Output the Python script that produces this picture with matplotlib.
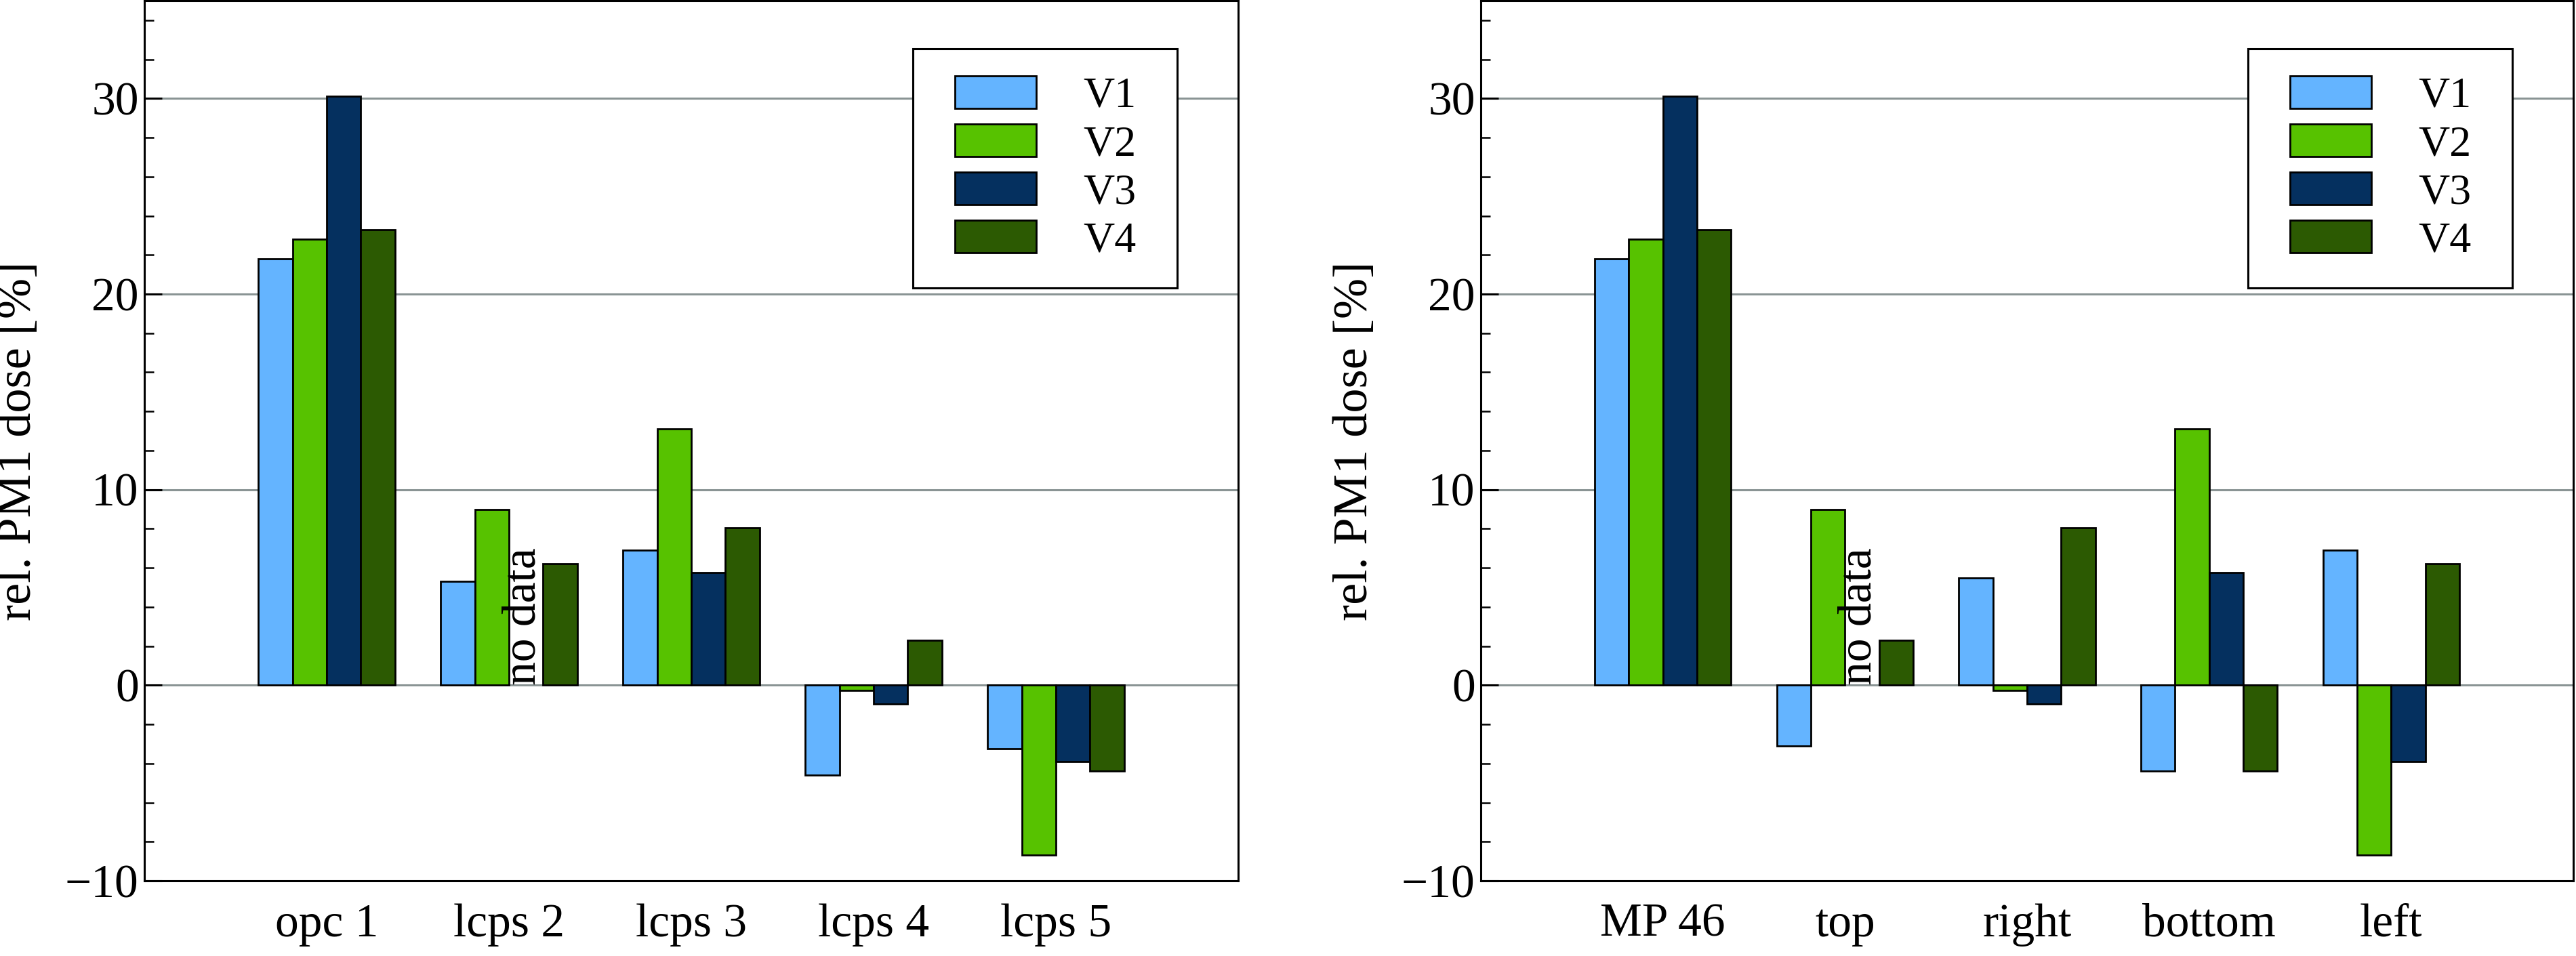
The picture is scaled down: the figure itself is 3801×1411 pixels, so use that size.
import numpy as np
import matplotlib
matplotlib.use("Agg")
import matplotlib.pyplot as plt
from matplotlib.ticker import MultipleLocator
from matplotlib.path import Path

plt.rcParams['font.family'] = 'serif'
plt.rcParams['font.serif'] = ['Liberation Serif', 'DejaVu Serif']
plt.rcParams['axes.unicode_minus'] = True

series = ["V1", "V2", "V3", "V4"]
colors = ["#64b4ff", "#57c200", "#05305f", "#2c5a02"]

left_categories = ["opc 1", "lcps 2", "lcps 3", "lcps 4", "lcps 5"]
left_V1 = [21.8, 5.3, 6.9, -4.6, -3.25]
left_V2 = [22.8, 9.0, 13.1, -0.25, -8.7]
left_V3 = [30.1, np.nan, 5.75, -0.95, -3.9]
left_V4 = [23.3, 6.2, 8.05, 2.3, -4.4]

right_categories = ["MP 46", "top", "right", "bottom", "left"]
right_V1 = [21.8, -3.1, 5.5, -4.4, 6.9]
right_V2 = [22.8, 9.0, -0.25, 13.1, -8.7]
right_V3 = [30.1, np.nan, -0.95, 5.75, -3.9]
right_V4 = [23.3, 2.3, 8.05, -4.4, 6.2]

ylabel = "rel. PM1 dose [%]"
no_data_label = "no data"

W, H = 3801, 1411
fig = plt.figure(figsize=(W / 100, H / 100), dpi=100)

def px_axes(x0, x1, y0, y1):
    return fig.add_axes([x0 / W, 1 - y1 / H, (x1 - x0) / W, (y1 - y0) / H])

ax_l = px_axes(213, 1827, 1, 1300)
ax_r = px_axes(2185, 3797, 1, 1300)

bw = 0.1875
offsets = [-1.5 * bw, -0.5 * bw, 0.5 * bw, 1.5 * bw]


def wide_box(x0, y0, width, height, mutation_size):
    padx = 0.34 * mutation_size
    pady = 0.0
    xa, xb = x0 - padx, x0 + width + padx
    ya, yb = y0 - pady, y0 + height + pady
    return Path([(xa, ya), (xb, ya), (xb, yb), (xa, yb), (xa, ya)],
                closed=True)


def draw(ax, cats, vals):
    x = np.arange(len(cats))
    ax.set_axisbelow(True)
    ax.yaxis.grid(True, which='major', color='#8a9494', linewidth=2.2)
    for k, (name, v, c, off) in enumerate(zip(series, vals, colors, offsets)):
        ax.bar(x + off, v, width=bw, color=c, edgecolor='black', linewidth=2.0, label=name)
        for i, val in enumerate(v):
            if np.isnan(val):
                ax.text(x[i] + off + bw / 2 + 0.01, 0.0, no_data_label, rotation=90,
                        ha='right', va='bottom', fontsize=50)
    ax.set_xlim(-1, 5)
    ax.set_ylim(-10, 35)
    ax.set_xticks(x)
    ax.set_xticklabels(cats)
    ax.yaxis.set_major_locator(MultipleLocator(10))
    ax.yaxis.set_minor_locator(MultipleLocator(2))
    ax.set_yticks([-10, 0, 10, 20, 30])
    ax.tick_params(axis='y', which='major', direction='in', length=19, width=2.2,
                   labelsize=50, pad=6, right=False)
    ax.tick_params(axis='y', which='minor', direction='in', length=10, width=1.8, right=False)
    ax.tick_params(axis='x', which='both', length=0, labelsize=50, pad=24)
    for s in ax.spines.values():
        s.set_linewidth(2.2)
        s.set_color('black')
    ax.set_ylabel(ylabel, fontsize=52, labelpad=26)
    leg = ax.legend(loc='upper right', bbox_to_anchor=(0.9310, 0.9453), borderaxespad=0,
                    fontsize=46, frameon=True, fancybox=False, framealpha=1,
                    edgecolor='black', handlelength=1.88, handleheight=0.78,
                    handletextpad=1.08, labelspacing=0.17, borderpad=0.62)
    frame = leg.get_frame()
    frame.set_boxstyle(wide_box)
    frame.set_linewidth(2.2)
    for p in leg.get_patches():
        p.set_linewidth(2.0)

draw(ax_l, left_categories, [left_V1, left_V2, left_V3, left_V4])
draw(ax_r, right_categories, [right_V1, right_V2, right_V3, right_V4])

fig.savefig("out.png", dpi=100)
